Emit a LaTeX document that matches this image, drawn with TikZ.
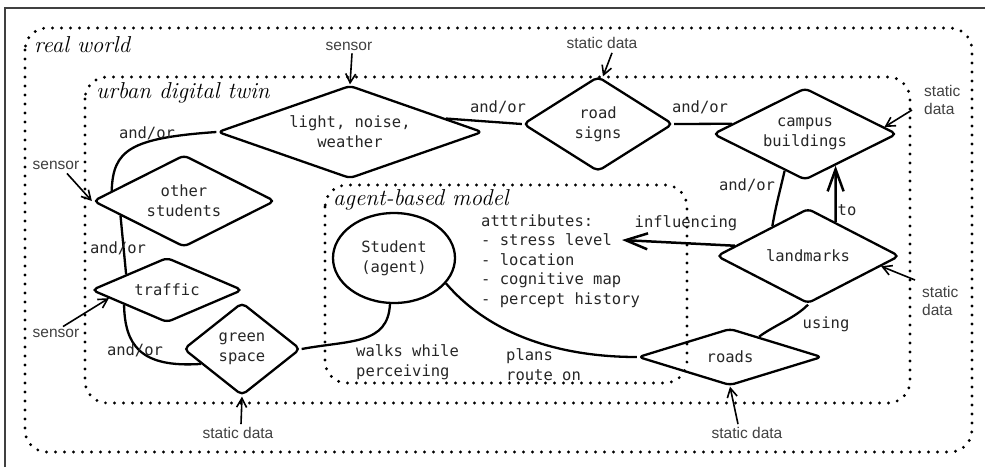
\documentclass[tikz,border=0pt]{standalone}
\usepackage{fontspec}
\setsansfont{Liberation Sans}
\setmonofont{DejaVu Sans Mono}
\usetikzlibrary{shapes.geometric,arrows.meta}
\newcommand{\mytt}{\ttfamily\fontsize{15.5}{20}\selectfont}
\newcommand{\myattr}{\ttfamily\fontsize{15.5}{19.5}\selectfont}
\newcommand{\mysrc}{\sffamily\fontsize{15.5}{18}\selectfont}
\newcommand{\myhand}{\rmfamily\itshape\fontsize{23}{25}\selectfont}
\tikzset{
  dia/.style={shape=diamond, draw, line width=2.3pt, rounded corners=5pt, inner sep=0pt, align=center, font=\mytt, text=black!85},
  conn/.style={line width=2.3pt},
  bigarrow/.style={line width=2.5pt, -{Straight Barb[length=22pt,width=16pt]}},
  zone/.style={line width=3.2pt, line cap=round, dash pattern=on 0pt off 9pt, rounded corners=22pt},
  feed/.style={line width=1.6pt, -{Straight Barb[length=9pt,width=10pt]}},
  src/.style={font=\mysrc, text=black!75, align=left, inner sep=0pt},
  lbl/.style={font=\mytt, text=black!85, inner sep=0pt, align=left},
  hand/.style={font=\myhand, inner sep=0pt, anchor=west}
}
\begin{document}
\begin{tikzpicture}[x=1pt,y=-1pt]
\useasboundingbox (0,0) rectangle (985,467);
% frame
\draw[line width=1.2pt, black!75] (5,467) -- (5,8) -- (985,8);
% zones
\draw[zone] (25,28) rectangle (972,452);
\draw[zone] (85,77) rectangle (910,403);
\draw[zone] (325,185) rectangle (687,383);
\node[hand] (rw) at (34,45) {real world};
\node[hand] (udt) at (96,93) {urban digital twin};
\node[hand] (abm) at (333,200) {agent-based model};

% nodes
\node[dia, minimum width=265pt, minimum height=93pt, shape aspect=2.85] (light) at (350,132) {light, noise,\\weather};
\node[dia, minimum width=150pt, minimum height=95pt, shape aspect=1.58] (rs) at (598,124) {road\\signs};
\node[dia, minimum width=184pt, minimum height=92pt, shape aspect=2] (cb) at (805,134) {campus\\buildings};
\node[dia, minimum width=182pt, minimum height=92pt, shape aspect=1.98] (os) at (184,201) {other\\students};
\node[dia, minimum width=151pt, minimum height=65pt, shape aspect=2.32] (tr) at (167,290) {traffic};
\node[dia, minimum width=117pt, minimum height=93pt, shape aspect=1.26] (gs) at (242,349) {green\\space};
\node[dia, minimum width=183pt, minimum height=95pt, shape aspect=1.93] (lm) at (808,256) {landmarks};
\node[dia, minimum width=184pt, minimum height=57pt, shape aspect=3.23] (rd) at (730,357) {roads};
\node[draw, ellipse, line width=2.3pt, minimum width=122pt, minimum height=90pt, inner sep=0pt, align=center, font=\mytt, text=black!85] (st) at (394,258) {Student\\(agent)};
\node[font=\myattr, text=black!85, inner sep=0pt, align=left, anchor=west] (attr) at (481,261) {atttributes:\\- stress level\\- location\\- cognitive map\\- percept history};
\coordinate (inf) at (622,240);

% connectors
\draw[conn] (light.west) .. controls (130,138) and (113,150) .. (os.172);
\draw[conn] (light.8) -- (rs.west);
\draw[conn] (rs.east) -- (cb.172);
\draw[conn] (cb.-119) .. controls (779,195) and (776,205) .. (lm.140);
\draw[bigarrow] (lm.51) -- (cb.-46);
\draw[bigarrow] (lm.172) -- (inf);
\draw[conn] (lm.south) .. controls (795,318) and (775,325) .. (rd.35);
\draw[conn] (rd.west) .. controls (560,357) and (490,335) .. (st.-26);
\draw[conn] (st.-95) .. controls (388,345) and (350,340) .. (gs.east);
\draw[conn] (os.193) -- (tr.159);
\draw[conn] (tr.199) .. controls (125,345) and (140,368) .. (gs.200);

% connector labels
\node[lbl] (l1) at (147,133) {and/or};
\node[lbl] (l2) at (498,107) {and/or};
\node[lbl] (l3) at (700,107) {and/or};
\node[lbl] (l4) at (747,185) {and/or};
\node[lbl] (l5) at (847,210) {to};
\node[lbl] (l6) at (686,223) {influencing};
\node[lbl] (l7) at (826,324) {using};
\node[lbl, anchor=west] (l8) at (506,365) {plans\\route on};
\node[lbl, anchor=west] (l9) at (356,362) {walks while\\perceiving};
\node[lbl] (l10) at (118,248) {and/or};
\node[lbl] (l11) at (135,350) {and/or};

% data sources
\node[src] (s1) at (349,46) {sensor};
\draw[feed] ([shift={(3,3)}]s1.south) -- (light.north);
\node[src] (s2) at (602,43) {static data};
\draw[feed] ([shift={(10,4)}]s2.south) -- ([shift={(5,1)}]rs.north);
\node[src, anchor=west] (s3) at (924,100) {static\\data};
\draw[feed] ([shift={(-12,10)}]s3.west) -- (cb.5);
\node[src, anchor=west] (s4) at (922,301) {static\\data};
\draw[feed] ([shift={(-7,-21)}]s4.west) -- (lm.-8);
\node[src] (s5) at (56,165) {sensor};
\draw[feed] ([shift={(11,4)}]s5.south) -- (os.west);
\node[src] (s6) at (56,333) {sensor};
\draw[feed] ([shift={(7,-2)}]s6.north) -- (tr.188);
\node[src] (s7) at (238,433) {static data};
\draw[feed] ([shift={(3,-3)}]s7.north) -- (gs.south);
\node[src] (s8) at (747,433) {static data};
\draw[feed] ([shift={(-9,-3)}]s8.north) -- (rd.south);
\end{tikzpicture}
\end{document}
